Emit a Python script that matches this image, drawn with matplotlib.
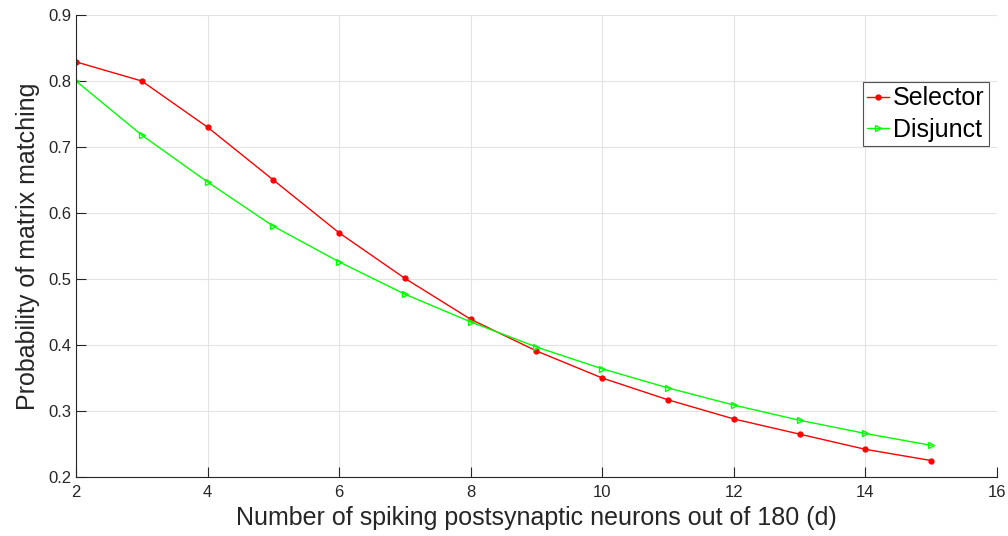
import matplotlib
matplotlib.use("Agg")
import matplotlib.pyplot as plt

plt.rcParams['font.family'] = ['Liberation Sans', 'DejaVu Sans']

d = [2, 3, 4, 5, 6, 7, 8, 9, 10, 11, 12, 13, 14, 15]
selector = [0.829, 0.800, 0.730, 0.650, 0.570, 0.501, 0.439, 0.391, 0.350, 0.317, 0.288, 0.265, 0.242, 0.225]
disjunct = [0.800, 0.718, 0.647, 0.580, 0.526, 0.477, 0.435, 0.397, 0.364, 0.335, 0.309, 0.286, 0.266, 0.248]

fig = plt.figure(figsize=(10.08, 5.36), dpi=100)
ax = fig.add_axes((0.0754, 0.110, 0.9136, 0.862))

ax.plot(d, selector, color="#ff0000", lw=1.0, marker=".", markersize=7, label="Selector")
ax.plot(d, disjunct, color="#00ff00", lw=1.0, marker=">", markersize=5,
        markerfacecolor="none", markeredgewidth=1.0, label="Disjunct")

ax.set_xlim(2, 16)
ax.set_ylim(0.2, 0.9)
ax.set_xticks(range(2, 17, 2))
ax.set_yticks([0.2, 0.3, 0.4, 0.5, 0.6, 0.7, 0.8, 0.9])
ax.set_yticklabels(["0.2", "0.3", "0.4", "0.5", "0.6", "0.7", "0.8", "0.9"])

ax.grid(True, color="#e3e3e3", lw=0.8)
ax.set_axisbelow(True)
for s in ("top", "right"):
    ax.spines[s].set_visible(False)
for s in ("left", "bottom"):
    ax.spines[s].set_color("#262626")
    ax.spines[s].set_linewidth(0.8)
ax.tick_params(direction="in", length=7, width=0.8, colors="#262626", labelsize=12)
ax.tick_params(axis="x", pad=6)
ax.tick_params(axis="y", pad=3)

ax.set_xlabel("Number of spiking postsynaptic neurons out of 180 (d)", fontsize=18, color="#262626", labelpad=4)
ax.set_ylabel("Probability of matrix matching", fontsize=18, color="#262626", labelpad=6)

leg = ax.legend(loc="upper right", bbox_to_anchor=(0.9913, 0.855), fontsize=18, frameon=True,
                fancybox=False, edgecolor="#262626", handlelength=0.9, handletextpad=0.15,
                borderpad=0.17, labelspacing=0.3, borderaxespad=0.0)
leg.get_frame().set_linewidth(0.8)

fig.savefig("out.png", dpi=100)
